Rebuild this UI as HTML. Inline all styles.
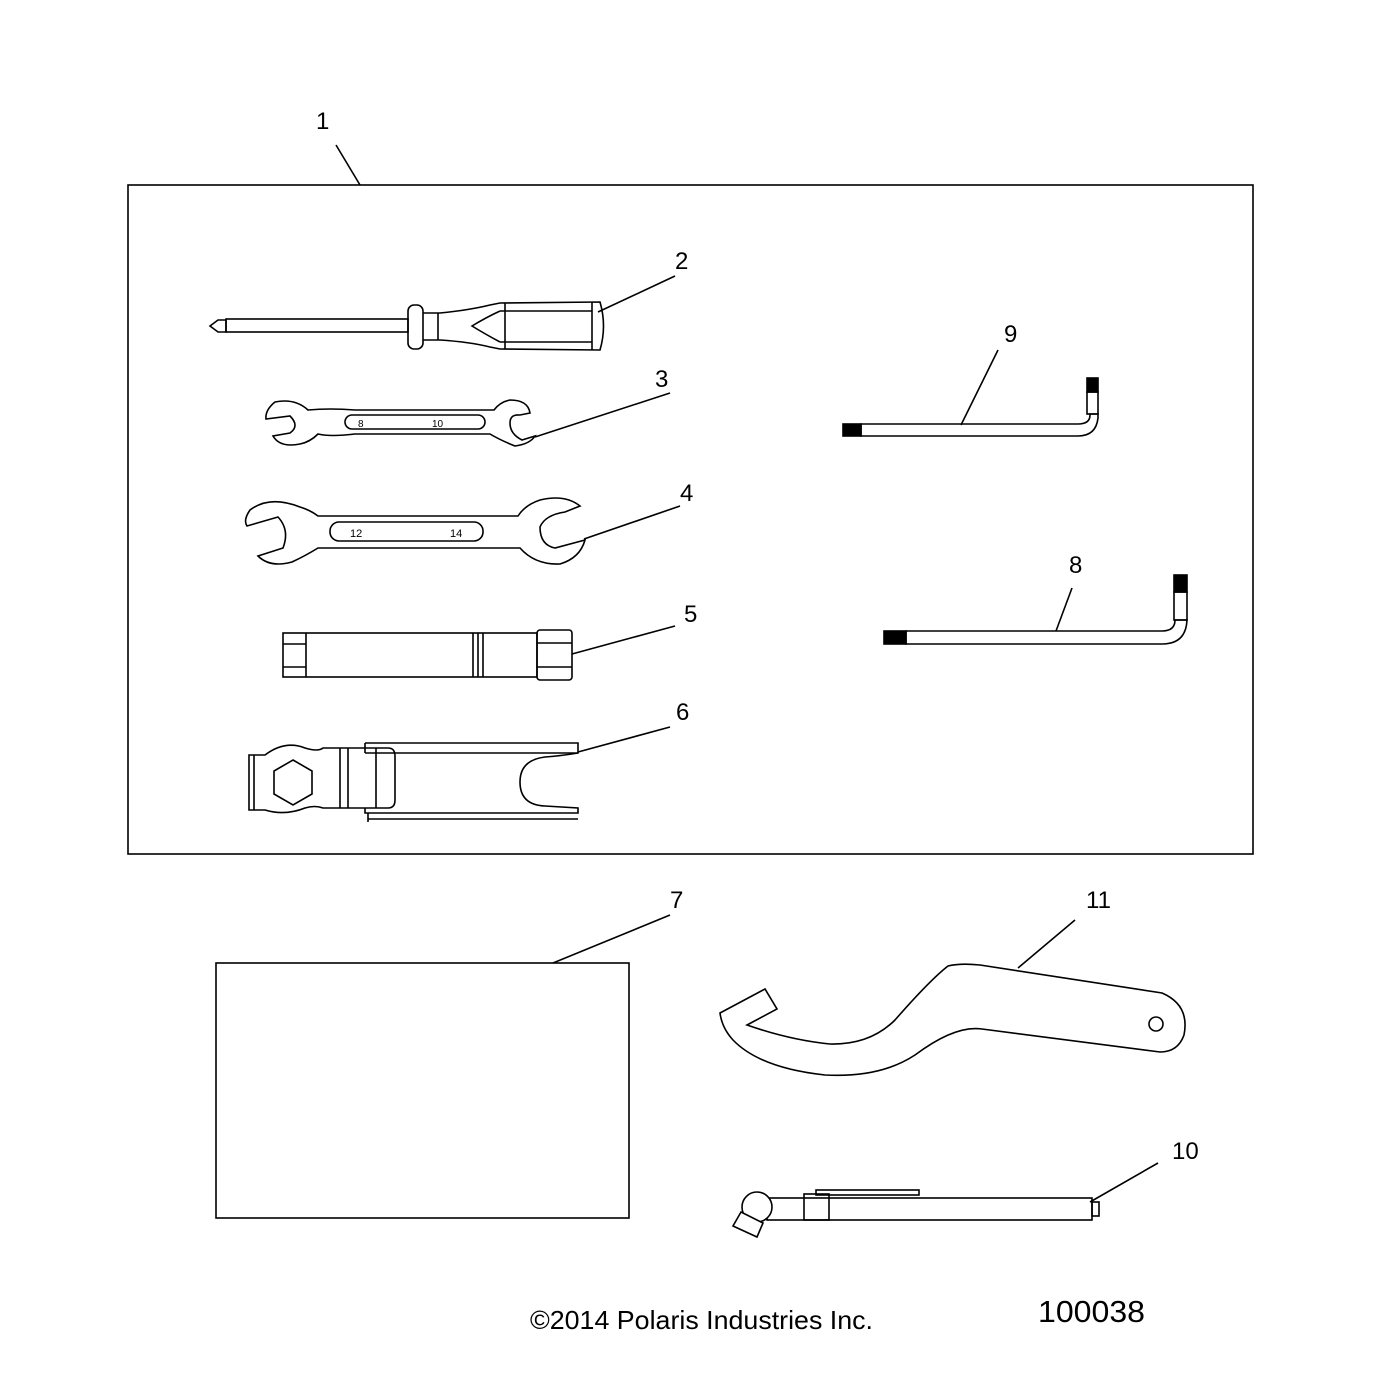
<!DOCTYPE html>
<html><head><meta charset="utf-8"><style>html,body{margin:0;padding:0;background:#fff}svg{display:block}</style></head>
<body>
<svg width="1386" height="1386" viewBox="0 0 1386 1386" xmlns="http://www.w3.org/2000/svg" font-family="Liberation Sans, sans-serif" fill="none" stroke="#000" stroke-width="1.6">
<rect x="0" y="0" width="1386" height="1386" fill="#fff" stroke="none"/>
<g fill="#000" stroke="none" font-size="24">
<text x="316" y="129">1</text>
<text x="675" y="269">2</text>
<text x="655" y="387">3</text>
<text x="680" y="501">4</text>
<text x="684" y="622">5</text>
<text x="676" y="720">6</text>
<text x="670" y="908">7</text>
<text x="1069" y="573">8</text>
<text x="1004" y="342">9</text>
<text x="1172" y="1159">10</text>
<text x="1086" y="908">11</text>
<text x="530" y="1329" font-size="26" textLength="343" lengthAdjust="spacingAndGlyphs">©2014 Polaris Industries Inc.</text>
<text x="1038" y="1322" font-size="31" textLength="107" lengthAdjust="spacingAndGlyphs">100038</text>
</g>
<rect x="128" y="185" width="1125" height="669"/>
<line x1="336" y1="145" x2="360" y2="185"/>
<line x1="675" y1="276" x2="598" y2="312"/>
<line x1="670" y1="393" x2="535" y2="437"/>
<line x1="680" y1="506" x2="584" y2="539"/>
<line x1="675" y1="626" x2="572" y2="654"/>
<line x1="670" y1="727" x2="578" y2="752"/>
<line x1="998" y1="350" x2="961" y2="425"/>
<line x1="1072" y1="588" x2="1056" y2="631"/>
<line x1="670" y1="915" x2="553" y2="963"/>
<line x1="1075" y1="920" x2="1018" y2="968"/>
<line x1="1158" y1="1163" x2="1090" y2="1202"/>
<!-- screwdriver -->
<path d="M210 326 L218 320 L226 320 L226 332 L218 332 Z"/>
<rect x="226" y="319" width="182" height="13"/>
<rect x="408" y="305" width="15" height="44" rx="6"/>
<path d="M423 313 L440 313 Q470 310 490 305 L500 303 L600 302 Q607 326 600 350 L500 349 L490 347 Q470 342 440 340 L423 340"/>
<line x1="438" y1="313" x2="438" y2="340"/>
<line x1="505" y1="303" x2="505" y2="349"/>
<line x1="592" y1="302" x2="592" y2="350"/>
<path d="M500 311 L592 311 M500 342 L592 342 M500 311 Q485 318 472 326 Q485 334 500 342"/>
<!-- wrench 3 -->
<path d="M308 410 Q295 398 275 402 Q265 410 266 419 L290 416 Q300 426 290 433 L273 436 Q280 448 300 444 Q310 442 318 434 Q330 437 355 434 L490 434 Q500 440 515 446 Q530 444 535 436 L522 440 Q510 434 510 423 Q510 414 520 415 L530 413 Q528 400 510 400 Q500 402 494 410 L355 410 Q330 408 308 410 Z"/>
<rect x="345" y="415" width="140" height="14" rx="7"/>
<text x="358" y="427" font-size="10" fill="#000" stroke="none">8</text>
<text x="432" y="427" font-size="10" fill="#000" stroke="none">10</text>
<!-- wrench 4 -->
<path d="M300 507 Q270 495 250 510 Q243 520 247 526 L278 517 Q290 530 283 548 L258 556 Q270 568 292 562 Q305 556 318 548 L520 548 Q535 565 560 564 Q580 558 585 540 L555 548 Q540 545 540 527 Q545 515 565 512 L580 506 Q565 494 540 500 Q525 505 518 516 L318 516 Q310 510 300 507 Z"/>
<rect x="330" y="522" width="153" height="19" rx="9"/>
<text x="350" y="537" font-size="11" fill="#000" stroke="none">12</text>
<text x="450" y="537" font-size="11" fill="#000" stroke="none">14</text>
<!-- socket 5 -->
<rect x="283" y="633" width="254" height="44"/>
<path d="M283 644 L306 644 M283 667 L306 667 M306 633 L306 677"/>
<path d="M473 633 L473 677 M478 633 L478 677 M483 633 L483 677"/>
<rect x="537" y="630" width="35" height="50" rx="3"/>
<path d="M537 643 L572 643 M537 667 L572 667"/>
<!-- item 6 -->
<path d="M365 743 L578 743 L578 753 Q560 756 545 757 Q520 760 520 782 Q520 805 545 806 L578 808 L578 813 L365 813 L365 808"/>
<path d="M365 753 L578 753 M365 743 L365 753 M368 819 L578 819 M368 813 L368 822"/>
<path d="M249 755 L265 755 Q285 740 305 748 Q318 752 323 748 L388 748 Q395 748 395 756 L395 800 Q395 808 388 808 L323 808 Q315 805 305 808 Q285 816 265 810 L249 810 Z"/>
<path d="M254 755 L254 810"/>
<path d="M293 760 L312 771 L312 794 L293 805 L274 794 L274 771 Z"/>
<path d="M340 748 L340 808 M348 748 L348 808 M376 748 L376 808"/>
<!-- allen 9 -->
<rect x="843" y="424" width="18" height="12" fill="#000"/>
<path d="M861 424 L1078 424 Q1090 424 1090 415 L1090 414 L1098 414 L1098 418 Q1096 436 1078 436 L861 436 Z"/>
<rect x="1087" y="378" width="11" height="14" fill="#000"/>
<rect x="1087" y="392" width="11" height="22"/>
<!-- allen 8 -->
<rect x="884" y="631" width="22" height="13" fill="#000"/>
<path d="M906 631 L1162 631 Q1175 631 1175 620 L1187 620 Q1186 644 1162 644 L906 644 Z"/>
<rect x="1174" y="575" width="13" height="17" fill="#000"/>
<rect x="1174" y="592" width="13" height="28"/>
<rect x="216" y="963" width="413" height="255"/>
<!-- item 11 -->
<path d="M720 1013 L765 989 L777 1009 L747 1025 Q790 1040 830 1044 Q870 1045 895 1020 Q930 980 948 966 Q960 963 980 965 L1162 993 Q1190 1005 1184 1035 Q1178 1052 1160 1052 L982 1029 Q955 1025 915 1055 Q880 1078 825 1075 Q760 1068 733 1040 Q722 1028 720 1013 Z"/>
<circle cx="1156" cy="1024" r="7"/>
<!-- item 10 -->
<rect x="767" y="1198" width="325" height="22"/>
<rect x="804" y="1194" width="25" height="26"/>
<rect x="816" y="1190" width="103" height="5"/>
<rect x="1092" y="1202" width="7" height="14"/>
<circle cx="757" cy="1207" r="15" fill="#fff"/>
<path d="M741 1212 L763 1223 L757 1237 L733 1226 Z" fill="#fff"/>
</svg>
</body></html>
